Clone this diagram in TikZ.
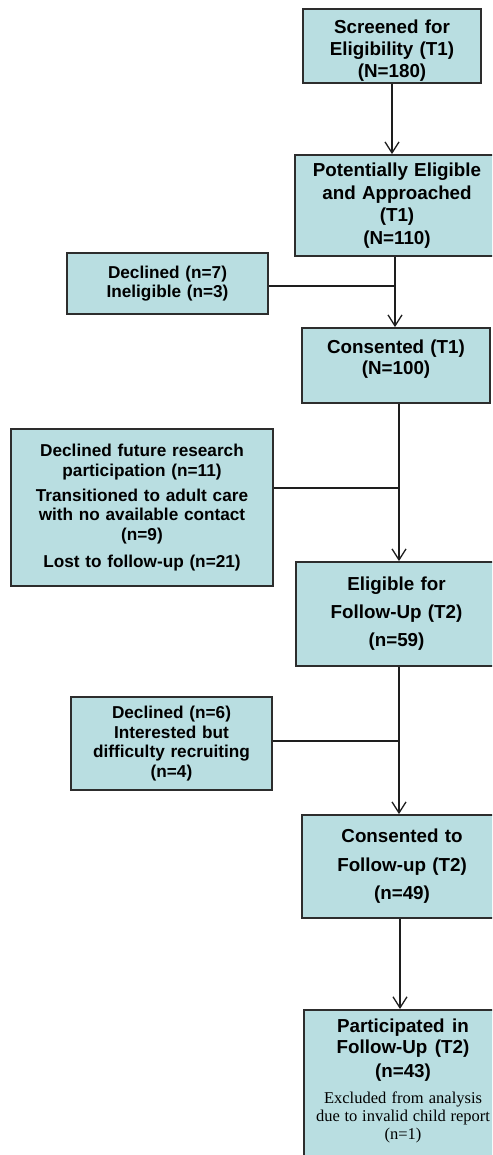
\documentclass[tikz,border=0pt]{standalone}
\usepackage{fontspec}
\setmainfont{Liberation Sans}
\newfontfamily\timesf{Liberation Serif}
\usetikzlibrary{arrows.meta}
\definecolor{boxfill}{RGB}{185,222,225}
\definecolor{boxline}{RGB}{45,45,45}
\definecolor{connline}{RGB}{30,30,30}
\tikzset{
  box/.style={draw=boxline, line width=1.8pt, fill=boxfill, inner sep=0pt, align=center},
  mainbox/.style={box, font=\bfseries\fontsize{18.8}{22}\selectfont},
  sidebox/.style={box, font=\bfseries\fontsize{17.2}{19.5}\selectfont},
  boxtext/.style={align=center, inner sep=0pt, anchor=north},
  conn/.style={draw=connline, line width=1.3pt},
  arr/.style={conn, -{Straight Barb[length=11pt,width=14pt,line width=1.3pt]}},
}
\begin{document}
\begin{tikzpicture}[x=1pt,y=-1pt]
\useasboundingbox (0,0) rectangle (492,1155);
\clip (0,0) rectangle (492,1155);

% main column
\node[box, minimum width=178pt, minimum height=74pt] (b1) at (392,46) {};
\node[boxtext, text width=176pt, font=\bfseries\fontsize{18.8}{22}\selectfont] (t1) at (392,19.5)
  {Screened for\\Eligibility (T1)\\(N=180)};
\node[mainbox, minimum width=204pt, minimum height=101pt, text width=200pt,
      font=\bfseries\fontsize{18.8}{22.6}\selectfont] (b2) at (397,205.5)
  {Potentially Eligible\\and Approached\\(T1)\\(N=110)};
\node[mainbox, minimum width=188pt, minimum height=75pt, text width=186pt,
      font=\bfseries\fontsize{18.8}{21}\selectfont] (b3) at (396,365.5)
  {Consented (T1)\\(N=100)\\[-5pt]\mbox{}};
\node[mainbox, minimum width=201pt, minimum height=104pt, text width=198pt,
      font=\bfseries\fontsize{18.8}{28}\selectfont] (b4) at (396.5,614)
  {Eligible for\\Follow-Up (T2)\\(n=59)};
\node[mainbox, minimum width=200pt, minimum height=103pt, text width=198pt,
      font=\bfseries\fontsize{18.8}{28.5}\selectfont] (b5) at (402,866.5)
  {Consented to\\Follow-up (T2)\\(n=49)};
\node[box, minimum width=200pt, minimum height=170pt, anchor=north west] (b6) at (303,1009) {};
\node[boxtext, text width=198pt, font=\bfseries\fontsize{18.8}{21}\selectfont] (t6) at (403,1018.5)
  {{\spaceskip=0pt Participated in\\Follow-Up (T2)\\[3pt](n=43)\par}
   \vspace{8pt}
   {\mdseries\timesf\fontsize{16.5}{18}\selectfont\spaceskip=0pt Excluded from analysis\\due to invalid child report\\(n=1)\par}};

% side boxes
\node[sidebox, minimum width=201pt, minimum height=61pt, text width=198pt] (s1) at (167.5,283.5)
  {Declined (n=7)\\Ineligible (n=3)};
\node[sidebox, minimum width=262pt, minimum height=157pt, text width=258pt] (s2) at (142,507.5)
  {Declined future research\\participation (n=11)\par\vspace{5.5pt}
   Transitioned to adult care\\with no available contact\\(n=9)\par\vspace{7.5pt}
   Lost to follow-up (n=21)};
\node[sidebox, minimum width=201pt, minimum height=93pt, text width=198pt] (s3) at (171.5,743.5)
  {Declined (n=6)\\Interested but\\difficulty recruiting\\(n=4)};

% connectors
\coordinate (j1) at (395,286);
\coordinate (j2) at (399,488);
\coordinate (j3) at (399,741);
\coordinate (j4) at (400,960);

\draw[arr] (b1.south) -- (b1.south |- b2.north);
\draw[arr] (b2.south -| j1) -- (b3.north -| j1);
\draw[conn] (j1 -| s1.east) -- (j1);
\draw[arr] (b3.south -| j2) -- (b4.north -| j2);
\draw[conn] (j2 -| s2.east) -- (j2);
\draw[arr] (b4.south -| j3) -- (b5.north -| j3);
\draw[conn] (j3 -| s3.east) -- (j3);
\draw[arr] (b5.south -| j4) -- (b6.north -| j4);
\end{tikzpicture}
\end{document}
